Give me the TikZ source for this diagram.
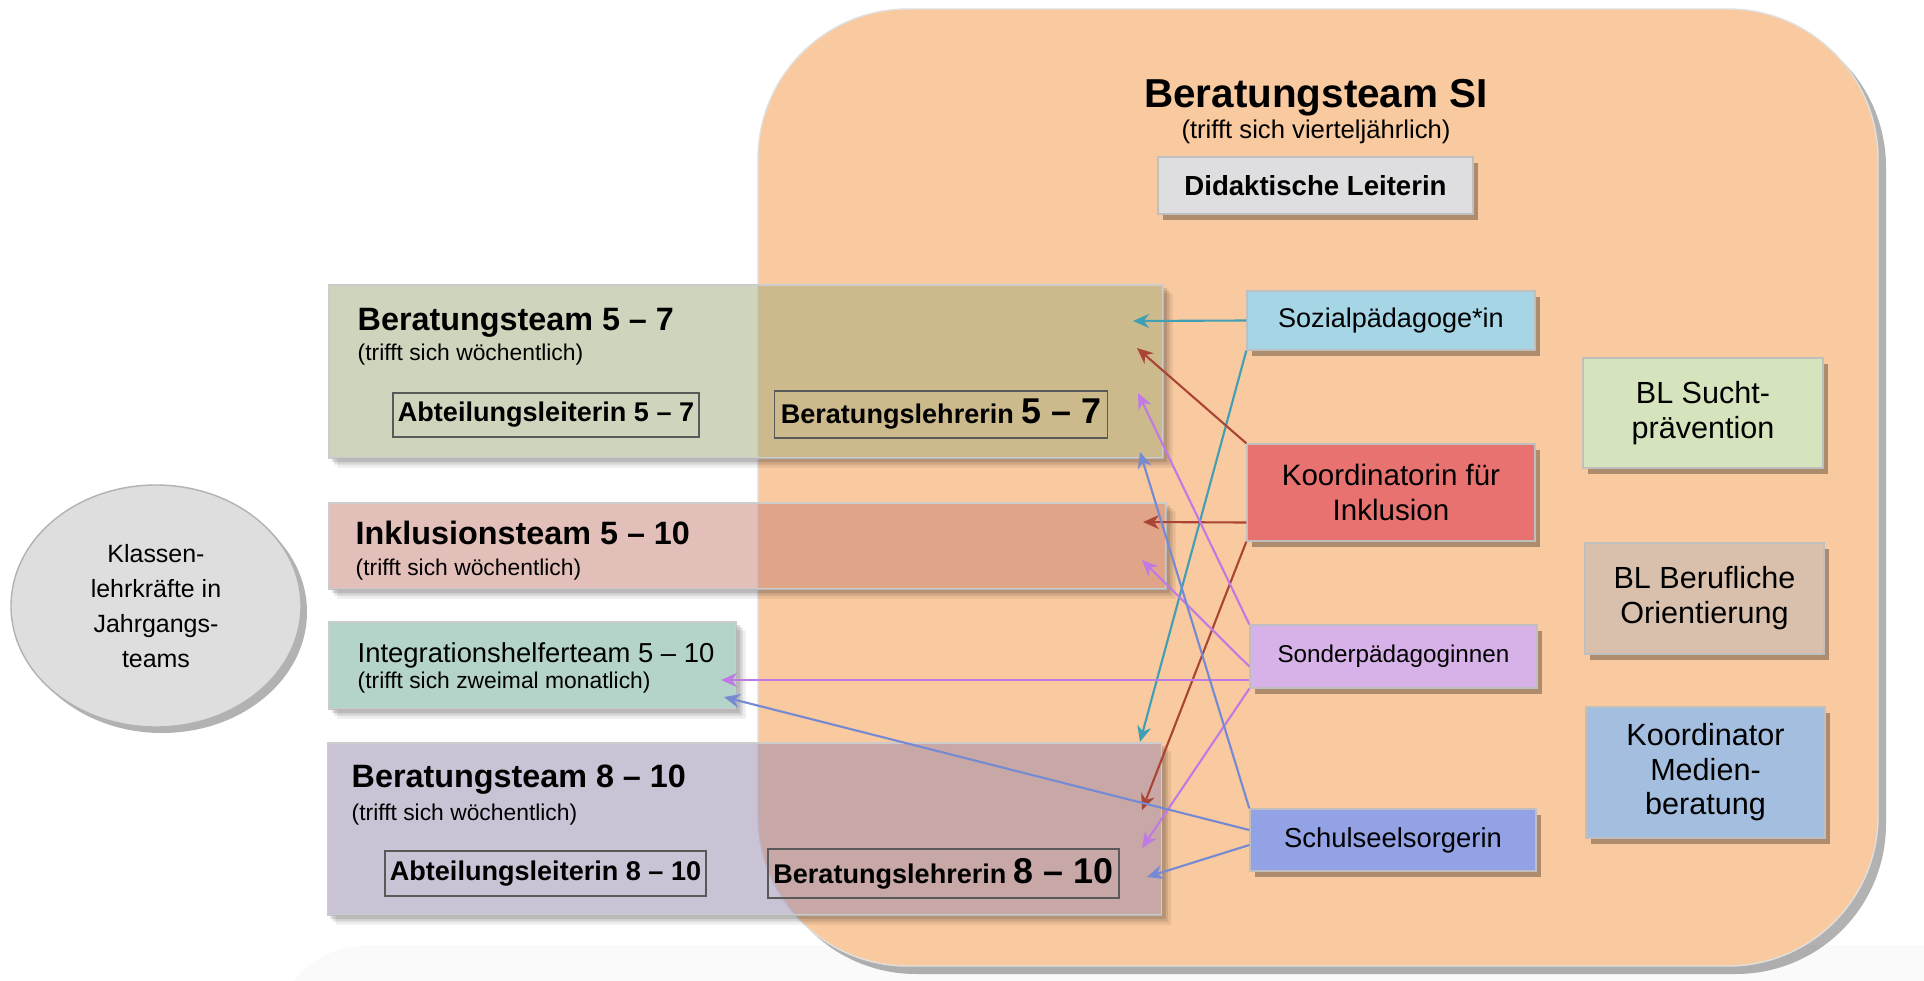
\documentclass[tikz,border=0pt]{standalone}
\usepackage{fontspec}
\setmainfont{Liberation Sans}
\usepackage{tikz}
\usetikzlibrary{arrows,arrows.meta,shapes,positioning,shadows}
\usepackage{xcolor}
\definecolor{siorange}{RGB}{249,201,159}
\definecolor{didgrey}{RGB}{222,222,224}
\definecolor{klgrey}{RGB}{222,222,222}
\definecolor{bt57col}{RGB}{161,173,125}
\definecolor{inkcol}{RGB}{201,129,117}
\definecolor{intcol}{RGB}{109,171,149}
\definecolor{bt810col}{RGB}{151,137,173}
\definecolor{sozcol}{RGB}{166,214,230}
\definecolor{koordcol}{RGB}{232,114,112}
\definecolor{sondercol}{RGB}{214,178,232}
\definecolor{schulcol}{RGB}{146,162,228}
\definecolor{suchtcol}{RGB}{214,228,190}
\definecolor{berufcol}{RGB}{216,192,172}
\definecolor{mediencol}{RGB}{164,190,224}
\definecolor{lnteal}{RGB}{62,160,178}
\definecolor{lnred}{RGB}{170,68,52}
\definecolor{lnpurple}{RGB}{192,122,228}
\definecolor{lnblue}{RGB}{118,138,212}
\tikzstyle{linkarrow} = [line width=0.6pt,->,>={Stealth[length=1.6mm,width=1.4mm]}]
\tikzstyle{sibox} = [rectangle, rounded corners=1.5cm, fill=siorange, draw=black!12, drop shadow={shadow xshift=0.8mm, shadow yshift=-0.8mm, fill=black, opacity=0.3}]
\tikzstyle{rolebox} = [rectangle, minimum width=2.88cm, text centered, draw=black!25, line width=0.4pt, drop shadow={shadow xshift=0.5mm, shadow yshift=-0.6mm, fill=black, opacity=0.3}]
\tikzstyle{teambox} = [rectangle, draw=black!20, line width=0.4pt, fill opacity=0.5]
\tikzstyle{memberbox} = [rectangle, draw=black!65, line width=0.3pt, inner sep=0pt, font=\bfseries\fontsize{7.7}{9}\selectfont]
\tikzstyle{teamtitle} = [anchor=base west, inner sep=0pt, font=\bfseries\fontsize{9.2}{11}\selectfont]
\tikzstyle{teamnote} = [anchor=base west, inner sep=0pt, font=\fontsize{6.5}{8}\selectfont]
\newcommand{\bignum}[1]{{\fontsize{10.2}{12}\selectfont #1}}
% soft shadow along the right and lower edge of a see-through box
\newcommand{\edgeshadow}[1]{\foreach \d/\o in {0.9/0.07,0.6/0.1,0.35/0.12} {\fill[black, opacity=\o] ([xshift=\d mm]#1.south west) -- ([xshift=\d mm,yshift=-\d mm]#1.south west) -- ([xshift=\d mm,yshift=-\d mm]#1.south east) -- ([xshift=\d mm,yshift=-\d mm]#1.north east) -- ([yshift=-\d mm]#1.north east) -- (#1.south east) -- cycle;}}

\begin{document}
\begin{tikzpicture}
\fill[white] (0,0) rectangle (19.24,-9.81);
\useasboundingbox (0,0) rectangle (19.24,-9.81);
\begin{scope}
\clip (0,0) rectangle (19.24,-9.81);
\fill[black!2, rounded corners=1cm] (2.7,-9.45) rectangle (20.5,-10.8);
\end{scope}

% Beratungsteam SI
\node[sibox, minimum width=11.2cm, minimum height=9.57cm] (si) at (13.18,-4.875) {};
\node[anchor=base, font=\bfseries\fontsize{11.5}{13}\selectfont] (sititle) at (13.16,-1.07) {Beratungsteam SI};
\node[anchor=base, font=\fontsize{7.3}{9}\selectfont] (sinote) at (13.16,-1.38) {(trifft sich vierteljährlich)};
\node[rolebox, fill=didgrey, minimum width=3.15cm, minimum height=0.57cm, font=\bfseries\fontsize{7.85}{9}\selectfont] (didakt) at (13.155,-1.855) {Didaktische Leiterin};

% Beratungsteam 5 - 7
\node[teambox, fill=bt57col, minimum width=8.34cm, minimum height=1.73cm] (bt57) at (7.46,-3.715) {};
\edgeshadow{bt57}
\node[teamtitle] (bt57title) at (3.57,-3.30) {Beratungsteam 5 – 7};
\node[teamnote] (bt57note) at (3.57,-3.60) {(trifft sich wöchentlich)};
\node[memberbox, minimum width=3.06cm, minimum height=0.44cm] (al57) at (5.46,-4.15) {Abteilungsleiterin 5 – 7};
\node[memberbox, minimum width=3.33cm, minimum height=0.47cm] (bl57) at (9.41,-4.145) {Beratungslehrerin \bignum{5 – 7}};

% Inklusionsteam
\node[teambox, fill=inkcol, minimum width=8.37cm, minimum height=0.86cm] (ink) at (7.475,-5.46) {};
\edgeshadow{ink}
\node[teamtitle] (inktitle) at (3.55,-5.44) {Inklusionsteam 5 – 10};
\node[teamnote] (inknote) at (3.55,-5.75) {(trifft sich wöchentlich)};

% Integrationshelferteam
\node[teambox, fill=intcol, minimum width=4.07cm, minimum height=0.87cm] (int) at (5.325,-6.655) {};
\edgeshadow{int}
\node[teamtitle, font=\fontsize{7.8}{9}\selectfont] (inttitle) at (3.57,-6.62) {Integrationshelferteam 5 – 10};
\node[teamnote] (intnote) at (3.57,-6.88) {(trifft sich zweimal monatlich)};

% Beratungsteam 8 - 10
\node[teambox, fill=bt810col, minimum width=8.34cm, minimum height=1.72cm] (bt810) at (7.445,-8.29) {};
\edgeshadow{bt810}
\node[teamtitle] (bt810title) at (3.51,-7.87) {Beratungsteam 8 – 10};
\node[teamnote] (bt810note) at (3.51,-8.20) {(trifft sich wöchentlich)};
\node[memberbox, minimum width=3.21cm, minimum height=0.45cm] (al810) at (5.455,-8.735) {Abteilungsleiterin 8 – 10};
\node[memberbox, minimum width=3.51cm, minimum height=0.49cm] (bl810) at (9.435,-8.735) {Beratungslehrerin \bignum{8 – 10}};

% Klassenlehrkraefte
\node[ellipse, draw=black!30, fill=klgrey, minimum width=2.90cm, minimum height=2.42cm, align=center, font=\fontsize{7.1}{9.9}\selectfont, drop shadow={shadow xshift=0.6mm, shadow yshift=-0.6mm, fill=black, opacity=0.3}] (klassen) at (1.56,-6.06) {Klassen-\\lehrkräfte in\\Jahrgangs-\\teams};

% Fachkraefte
\node[rolebox, fill=sozcol, minimum height=0.59cm, font=\fontsize{7.7}{9}\selectfont] (sozial) at (13.91,-3.205) {Sozialpädagoge*in};
\node[rolebox, fill=koordcol, minimum height=0.97cm, align=center, font=\fontsize{8.4}{9.8}\selectfont] (koord) at (13.91,-4.925) {Koordinatorin für\\Inklusion};
\node[rolebox, fill=sondercol, minimum width=2.87cm, minimum height=0.63cm, font=\fontsize{6.9}{8}\selectfont] (sonder) at (13.935,-6.565) {Sonderpädagoginnen};
\node[rolebox, fill=schulcol, minimum width=2.86cm, minimum height=0.62cm, font=\fontsize{7.8}{9}\selectfont] (schul) at (13.93,-8.40) {Schulseelsorgerin};

% Beauftragte
\node[rolebox, fill=suchtcol, minimum width=2.40cm, minimum height=1.10cm, align=center, font=\fontsize{8.7}{10}\selectfont] (sucht) at (17.03,-4.13) {BL Sucht-\\prävention};
\node[rolebox, fill=berufcol, minimum width=2.39cm, minimum height=1.11cm, align=center, font=\fontsize{8.7}{10}\selectfont] (beruf) at (17.045,-5.985) {BL Berufliche\\Orientierung};
\node[rolebox, fill=mediencol, minimum width=2.39cm, minimum height=1.31cm, align=center, font=\fontsize{8.7}{9.8}\selectfont] (medien) at (17.055,-7.725) {Koordinator\\Medien-\\beratung};

% Arrow ends
\coordinate (t57a) at (11.33,-3.21);
\coordinate (t57b) at (11.37,-3.48);
\coordinate (t57c) at (11.38,-3.93);
\coordinate (t57d) at (11.40,-4.52);
\coordinate (tinka) at (11.43,-5.22);
\coordinate (tinkb) at (11.42,-5.60);
\coordinate (tinta) at (7.21,-6.80);
\coordinate (tintb) at (7.24,-6.97);
\coordinate (t810a) at (11.40,-7.42);
\coordinate (t810b) at (11.42,-8.10);
\coordinate (t810c) at (11.42,-8.48);
\coordinate (t810d) at (11.47,-8.77);

\draw[linkarrow, lnteal] (sozial.west) -- (t57a);
\draw[linkarrow, lnteal] (sozial.south west) -- (t810a);
\draw[linkarrow, lnred] (koord.north west) -- (t57b);
\draw[linkarrow, lnred] ([yshift=-3mm]koord.west) -- (tinka);
\draw[linkarrow, lnred] (koord.south west) -- (t810b);
\draw[linkarrow, lnpurple] (sonder.north west) -- (t57c);
\draw[linkarrow, lnpurple] ([yshift=-1mm]sonder.west) -- (tinkb);
\draw[linkarrow, lnpurple] ([yshift=-2.35mm]sonder.west) -- (tinta);
\draw[linkarrow, lnpurple] (sonder.south west) -- (t810c);
\draw[linkarrow, lnblue] (schul.north west) -- (t57d);
\draw[linkarrow, lnblue] ([yshift=1mm]schul.west) -- (tintb);
\draw[linkarrow, lnblue] ([yshift=-0.5mm]schul.west) -- (t810d);
\end{tikzpicture}
\end{document}
